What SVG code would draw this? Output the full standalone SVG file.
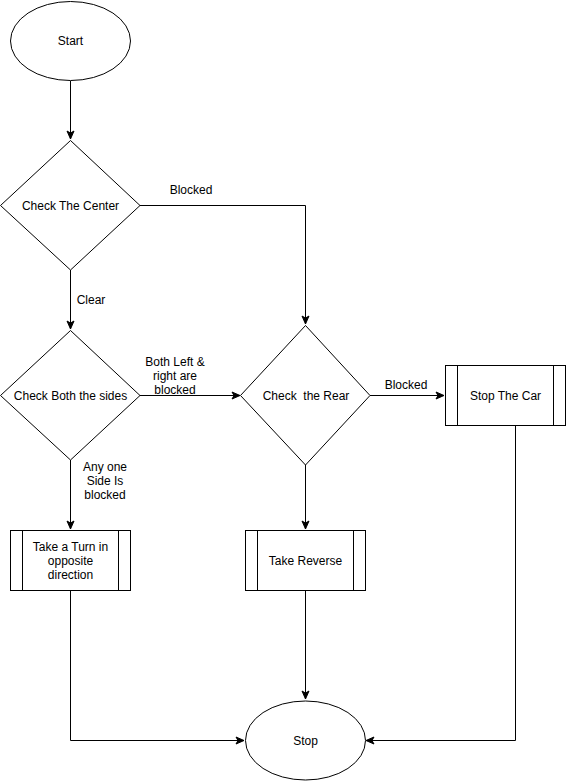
<svg xmlns="http://www.w3.org/2000/svg" width="566" height="781" viewBox="0 0 566 781">
<defs>
<style>
.shape{fill:#fff;stroke:#000;stroke-width:1}
.line{fill:none;stroke:#000;stroke-width:1}
text{font-family:"Liberation Sans",Arial,Helvetica,sans-serif;font-size:12px;fill:#000;text-anchor:middle}
</style>
<marker id="arr" markerUnits="userSpaceOnUse" markerWidth="10" markerHeight="10" viewBox="0 0 10 10" refX="9" refY="5" orient="auto">
<path d="M1,1.5 L9,5 L1,8.5 L3,5 Z" fill="#000" stroke="#000" stroke-width="1"/>
</marker>
</defs>
<rect width="566" height="781" fill="#fff"/>
<g id="connectors">
<path class="line" d="M70.5,81 L70.5,139" marker-end="url(#arr)"/>
<path class="line" d="M140,205.5 L305.5,205.5 L305.5,324" marker-end="url(#arr)"/>
<path class="line" d="M70.5,270 L70.5,329" marker-end="url(#arr)"/>
<path class="line" d="M140,395.5 L240,395.5" marker-end="url(#arr)"/>
<path class="line" d="M370,395.5 L444,395.5" marker-end="url(#arr)"/>
<path class="line" d="M70.5,460 L70.5,529" marker-end="url(#arr)"/>
<path class="line" d="M305.5,465 L305.5,529" marker-end="url(#arr)"/>
<path class="line" d="M305.5,590 L305.5,699" marker-end="url(#arr)"/>
<path class="line" d="M70.5,590 L70.5,740.5 L244,740.5" marker-end="url(#arr)"/>
<path class="line" d="M515.5,425 L515.5,740.5 L366,740.5" marker-end="url(#arr)"/>
<text x="191" y="194">Blocked</text>
<text x="91" y="304">Clear</text>
<text x="175" y="366">Both Left &amp;</text>
<text x="175" y="380">right are</text>
<text x="175" y="394">blocked</text>
<text x="406" y="389">Blocked</text>
<text x="105" y="471">Any one</text>
<text x="105" y="485">Side Is</text>
<text x="105" y="499">blocked</text>
</g>
<g id="start">
<ellipse class="shape" cx="70.5" cy="41" rx="60" ry="39.5"/>
<text x="70.5" y="45">Start</text>
</g>
<g id="check-center">
<path class="shape" d="M70.5,140.5 L140,205.5 L70.5,270 L0.5,205.5 Z"/>
<text x="70.5" y="209.5">Check The Center</text>
</g>
<g id="check-sides">
<path class="shape" d="M70.5,330.5 L140,395.5 L70.5,460 L0.5,395.5 Z"/>
<text x="70.5" y="399.5">Check Both the sides</text>
</g>
<g id="check-rear">
<path class="shape" d="M305.5,325.5 L370,395.5 L305.5,465 L240.5,395.5 Z"/>
<text x="306" y="399.5" xml:space="preserve">Check  the Rear</text>
</g>
<g id="stop-car">
<rect class="shape" x="445.5" y="365.5" width="120" height="60"/>
<path class="line" d="M457.5,365.5 L457.5,425.5 M553.5,365.5 L553.5,425.5"/>
<text x="505.5" y="399.5">Stop The Car</text>
</g>
<g id="take-turn">
<rect class="shape" x="10.5" y="530.5" width="120" height="60"/>
<path class="line" d="M22.5,530.5 L22.5,590.5 M118.5,530.5 L118.5,590.5"/>
<text x="70.5" y="551">Take a Turn in</text>
<text x="70.5" y="565">opposite</text>
<text x="70.5" y="579">direction</text>
</g>
<g id="take-reverse">
<rect class="shape" x="245.5" y="530.5" width="120" height="60"/>
<path class="line" d="M257.5,530.5 L257.5,590.5 M353.5,530.5 L353.5,590.5"/>
<text x="305.5" y="565">Take Reverse</text>
</g>
<g id="stop">
<ellipse class="shape" cx="305.5" cy="740.5" rx="60" ry="39.5"/>
<text x="305.5" y="744.5">Stop</text>
</g>
</svg>
